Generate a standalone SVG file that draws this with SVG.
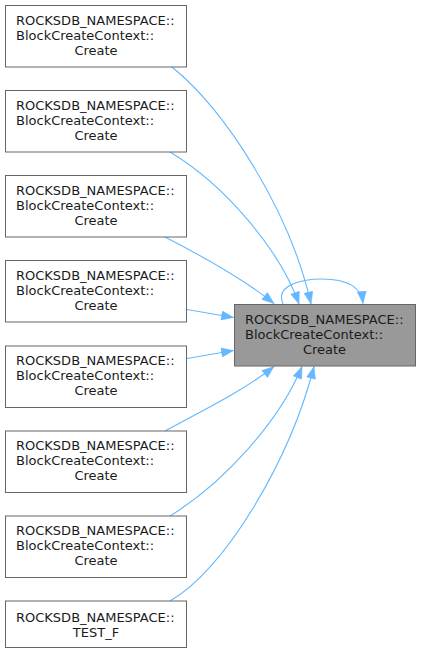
<svg xmlns="http://www.w3.org/2000/svg" width="421" height="653" viewBox="0 0 421 653">
<style>
.n rect{fill:#ffffff;stroke:#666666;stroke-width:1}
.c rect{fill:#999999;stroke:#666666;stroke-width:1}
text{font-family:"DejaVu Sans",sans-serif;font-size:13px;fill:#1a1a1a}
.m{text-anchor:middle}
.e path{fill:none;stroke:#63b8ff;stroke-width:1.1;marker-end:url(#ah)}
</style>
<defs>
<marker id="ah" markerUnits="userSpaceOnUse" markerWidth="13" markerHeight="10" refX="12.5" refY="5" orient="auto">
<path d="M0.5,0.5 L12.5,5 L0.5,9.5 z" fill="#63b8ff" stroke="#63b8ff" stroke-width="0.5"/>
</marker>
</defs>
<rect width="421" height="653" fill="#ffffff"/>
<g id="edges" class="e">
<path d="M172,67 C225,110 290,210 311,304"/>
<path d="M170,152 C225,185 280,250 299,304"/>
<path d="M165,237 C200,255 245,280 274,303.5"/>
<path d="M187,309.5 L233.5,317.5"/>
<path d="M187,358.5 L233.5,350.5"/>
<path d="M165,431 C200,412 245,390 274,366.5"/>
<path d="M170,516 C225,482 280,420 302,366.5"/>
<path d="M170,601 C225,570 290,460 314,366.5"/>
<path d="M283,304 C275,286 300,279 322,279 C345,279 361,285 363,303.5"/>
</g>
<g id="node1" class="n"><rect x="5.5" y="5.5" width="181" height="61.5"/><text x="16" y="24.5">ROCKSDB_NAMESPACE::</text><text x="16" y="39.5">BlockCreateContext::</text><text class="m" x="96" y="54.5">Create</text></g>
<g id="node2" class="n"><rect x="5.5" y="90.5" width="181" height="61.5"/><text x="16" y="109.5">ROCKSDB_NAMESPACE::</text><text x="16" y="124.5">BlockCreateContext::</text><text class="m" x="96" y="139.5">Create</text></g>
<g id="node3" class="n"><rect x="5.5" y="175.5" width="181" height="61.5"/><text x="16" y="194.5">ROCKSDB_NAMESPACE::</text><text x="16" y="209.5">BlockCreateContext::</text><text class="m" x="96" y="224.5">Create</text></g>
<g id="node4" class="n"><rect x="5.5" y="260.5" width="181" height="61.5"/><text x="16" y="279.5">ROCKSDB_NAMESPACE::</text><text x="16" y="294.5">BlockCreateContext::</text><text class="m" x="96" y="309.5">Create</text></g>
<g id="node5" class="n"><rect x="5.5" y="346" width="181" height="61.5"/><text x="16" y="365">ROCKSDB_NAMESPACE::</text><text x="16" y="380">BlockCreateContext::</text><text class="m" x="96" y="395">Create</text></g>
<g id="node6" class="n"><rect x="5.5" y="431" width="181" height="61.5"/><text x="16" y="450">ROCKSDB_NAMESPACE::</text><text x="16" y="465">BlockCreateContext::</text><text class="m" x="96" y="480">Create</text></g>
<g id="node7" class="n"><rect x="5.5" y="516" width="181" height="61.5"/><text x="16" y="535">ROCKSDB_NAMESPACE::</text><text x="16" y="550">BlockCreateContext::</text><text class="m" x="96" y="565">Create</text></g>
<g id="node8" class="n"><rect x="5.5" y="601" width="181" height="46.5"/><text x="16" y="622">ROCKSDB_NAMESPACE::</text><text class="m" x="96" y="637">TEST_F</text></g>
<g id="center" class="c"><rect x="234.5" y="304.5" width="181" height="61.5"/><text x="245" y="323.5">ROCKSDB_NAMESPACE::</text><text x="245" y="338.5">BlockCreateContext::</text><text class="m" x="324.5" y="353.5">Create</text></g>
</svg>
